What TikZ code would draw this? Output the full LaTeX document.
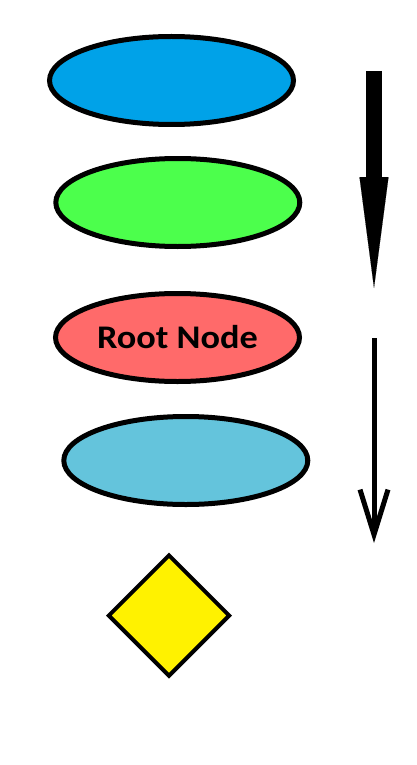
\documentclass[tikz,border=0pt]{standalone}
\usepackage{fontspec}
\usepackage{xcolor}
\newfontfamily\rootfont[FakeStretch=1.1]{Carlito}
\usetikzlibrary{arrows.meta,shapes.geometric}
\definecolor{blobblue}{RGB}{0,162,232}
\definecolor{blobgreen}{RGB}{76,255,76}
\definecolor{blobred}{RGB}{255,106,106}
\definecolor{blobcyan}{RGB}{100,196,220}
\definecolor{leafyellow}{RGB}{255,242,0}

\begin{document}
\begin{tikzpicture}[
    x=1pt, y=-1pt,
    blob/.style={ellipse, draw=black, line width=5pt, minimum width=244pt, minimum height=88pt, inner sep=0pt}
]

\useasboundingbox (0,0) rectangle (416,765);

% Stack of ellipses
\node[blob, fill=blobblue] (upper) at (171.5,80.5) {};
\node[blob, fill=blobgreen] (middle) at (177.8,202.5) {};
\node[blob, fill=blobred, font=\rootfont\bfseries\fontsize{33}{38}\selectfont] (root) at (177.5,337.5) {Root Node};
\node[blob, fill=blobcyan] (lower) at (185.8,460.5) {};

% Diamond
\node[diamond, draw=black, fill=leafyellow, line width=4pt, minimum width=122pt, minimum height=122pt, inner sep=0pt] (leaf) at (169,615.5) {};

% Thick arrow
\coordinate (bigtop) at (374,71);
\coordinate (bigtip) at (374,288);
\draw[line width=16pt, -{Triangle[length=111pt, width=29pt, line width=0.1pt]}] (bigtop) -- (bigtip);

% Thin arrow
\coordinate (thintop) at (374,338);
\coordinate (thintip) at (374,543);
\draw[line width=5pt, -{Straight Barb[length=45pt, width=28pt]}] (thintop) -- (thintip);

\end{tikzpicture}
\end{document}
